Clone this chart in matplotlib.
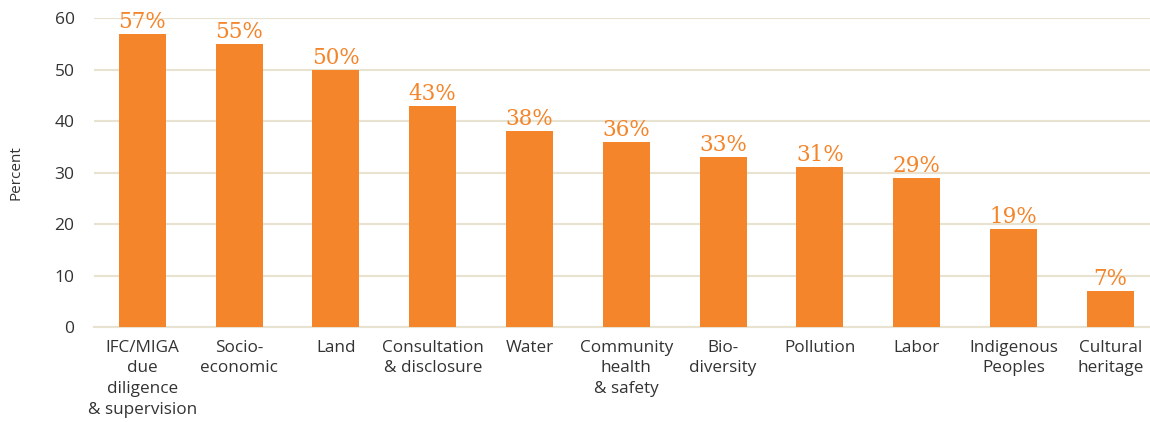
import matplotlib.pyplot as plt

# Share of cases raising each issue type
categories = [
    "IFC/MIGA\ndue\ndiligence\n& supervision",
    "Socio-\neconomic",
    "Land",
    "Consultation\n& disclosure",
    "Water",
    "Community\nhealth\n& safety",
    "Bio-\ndiversity",
    "Pollution",
    "Labor",
    "Indigenous\nPeoples",
    "Cultural\nheritage",
]
values = [57, 55, 50, 43, 38, 36, 33, 31, 29, 19, 7]
yticks = [0, 10, 20, 30, 40, 50, 60]

orange = "#f4852a"
grid_col = "#e8e2d0"
text_col = "#333333"

plt.rcParams["font.family"] = ["Open Sans", "DejaVu Sans"]

fig = plt.figure(figsize=(11.5, 4.22), dpi=100)
ax = fig.add_axes([0.0817, 0.225, 0.9183, 0.732])

x = list(range(len(categories)))
ax.bar(x, values, width=0.485, color=orange, zorder=3)

for xi, v in zip(x, values):
    ax.text(xi, v + 0.2, f"{v}%", ha="center", va="bottom", color=orange,
            fontsize=15.5, family=["DejaVu Serif"], zorder=4)

ax.set_xlim(-0.5, 10.41)
ax.set_ylim(0, 60)
ax.set_yticks(yticks)
ax.yaxis.grid(True, color=grid_col, linewidth=1.5, zorder=0)
ax.set_axisbelow(True)

ax.set_xticks(x)
ax.set_xticklabels(categories, fontsize=12.3, color=text_col, linespacing=1.4)
ax.tick_params(axis="x", length=0, pad=9)
ax.tick_params(axis="y", length=0, pad=14, labelsize=12.5, labelcolor=text_col)

for side in ["top", "right", "left"]:
    ax.spines[side].set_visible(False)
ax.spines["bottom"].set_color(grid_col)
ax.spines["bottom"].set_linewidth(1.5)

ax.set_ylabel("Percent", fontsize=11, color=text_col, labelpad=22)

fig.savefig("out.png", dpi=100)
